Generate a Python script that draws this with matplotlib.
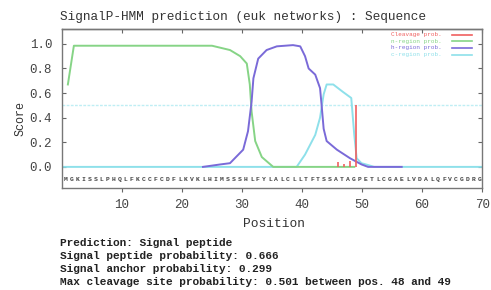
import matplotlib
matplotlib.use('Agg')
import matplotlib.pyplot as plt

# n-region probability (green)
n_pos = [1, 2, 25, 28, 29.7, 30.8, 31.3, 31.6, 32.2, 33.3, 35.2, 48.7]
n_val = [0.67, 0.985, 0.985, 0.95, 0.90, 0.84, 0.67, 0.45, 0.21, 0.08, 0.0, 0.0]

# h-region probability (purple)
h_pos = [23.5, 26.4, 28, 30.2, 31, 31.6, 31.9, 32.7, 34.1, 35.8, 38.5, 39.7, 40.5,
         41.1, 42.2, 43, 43.3, 43.6, 44.1, 45.8, 48, 49.9, 51, 56.6]
h_val = [0.0, 0.02, 0.03, 0.14, 0.29, 0.53, 0.72, 0.88, 0.95, 0.98, 0.99, 0.98, 0.90,
         0.80, 0.75, 0.64, 0.48, 0.31, 0.21, 0.14, 0.07, 0.02, 0.0, 0.0]

# c-region probability (cyan)
c_pos = [0, 39.1, 40.5, 42.2, 43, 43.6, 44.1, 45.2, 46.8, 48.2, 48.7, 49.1, 49.9,
         51, 52, 70]
c_val = [0.0, 0.0, 0.1, 0.26, 0.4, 0.59, 0.67, 0.67, 0.61, 0.56, 0.26, 0.07, 0.03,
         0.015, 0.0, 0.0]

# cleavage probability (red)
cl_pos = [46, 47, 48, 49]
cl_val = [0.04, 0.02, 0.05, 0.50]

sequence = 'MGKISSLPHQLFKCCFCDFLKVKLHIMSSSHLFYLALCLLTFTSSATAGPETLCGAELVDALQFVCGDRG'
threshold = 0.5

x_ticks = [10, 20, 30, 40, 50, 60, 70]
y_ticks = [0.0, 0.2, 0.4, 0.6, 0.8, 1.0]

summary = ['Prediction: Signal peptide',
           'Signal peptide probability: 0.666',
           'Signal anchor probability: 0.299',
           'Max cleavage site probability: 0.501 between pos. 48 and 49']

RED = '#f06060'
GREEN = '#86d486'
PURPLE = '#7a6ad8'
CYAN = '#8ee0ea'
TXT = '#333333'
MONO = 'Liberation Mono'

fig = plt.figure(figsize=(4.91, 2.90), dpi=100)
ax = fig.add_axes([0.126, 0.352, 0.856, 0.548])

ax.axhline(threshold, color='#bfeef4', lw=1.0, ls=(0, (2, 1)))
ax.plot(c_pos, c_val, color=CYAN, lw=1.4)
ax.plot(n_pos, n_val, color=GREEN, lw=1.4)
ax.plot(h_pos, h_val, color=PURPLE, lw=1.4)
ax.vlines(cl_pos, 0, cl_val, color=RED, lw=1.2)

for i, ch in enumerate(sequence):
    ax.text(i + 0.65, -0.105, ch, fontsize=4.6, family=MONO, fontweight='bold',
            color='#444444', ha='center', va='center')

ax.set_xlim(0, 70)
ax.set_ylim(-0.171, 1.121)
ax.set_xticks(x_ticks)
ax.set_yticks(y_ticks)
ax.set_xticklabels([str(v) for v in x_ticks], family=MONO, fontsize=9, color='#444444')
ax.set_yticklabels(['%.1f' % v for v in y_ticks], family=MONO, fontsize=9,
                   color='#444444')
ax.tick_params(axis='x', direction='out', length=3, color='#666666', pad=5)
ax.tick_params(axis='y', direction='in', length=3, color='#666666', right=True,
               pad=7)
top = ax.secondary_xaxis('top')
top.set_xticks(x_ticks)
top.tick_params(direction='in', length=3, color='#666666', labeltop=False)
for s in list(ax.spines.values()) + list(top.spines.values()):
    s.set_color('#777777')
    s.set_linewidth(1.0)

# legend (drawn by hand to get the gnuplot look)
labels = ['Cleavage prob.', 'n-region prob.', 'h-region prob.', 'c-region prob.']
cols = [RED, GREEN, PURPLE, CYAN]
for k, (lab, col) in enumerate(zip(labels, cols)):
    yy = 0.965 - k * 0.042
    ax.text(0.905, yy, lab, transform=ax.transAxes, fontsize=4.3, family=MONO,
            color=col, ha='right', va='center')
    ax.plot([0.929, 0.976], [yy, yy], transform=ax.transAxes, color=col, lw=1.2)

fig.text(0.122, 0.94, 'SignalP-HMM prediction (euk networks) : Sequence',
         family=MONO, fontsize=9.2, color=TXT, va='center')
fig.text(0.042, 0.59, 'Score', rotation=90, family=MONO, fontsize=8.5,
         color=TXT, ha='center', va='center')
fig.text(0.558, 0.228, 'Position', family=MONO, fontsize=9.3, color=TXT,
         ha='center', va='center')

for k, line in enumerate(summary):
    fig.text(0.122, 0.162 - k * 0.0445, line, family=MONO, fontsize=8,
             fontweight='bold', color='#222222', va='center')

fig.savefig('out.png', dpi=100, facecolor='white')
